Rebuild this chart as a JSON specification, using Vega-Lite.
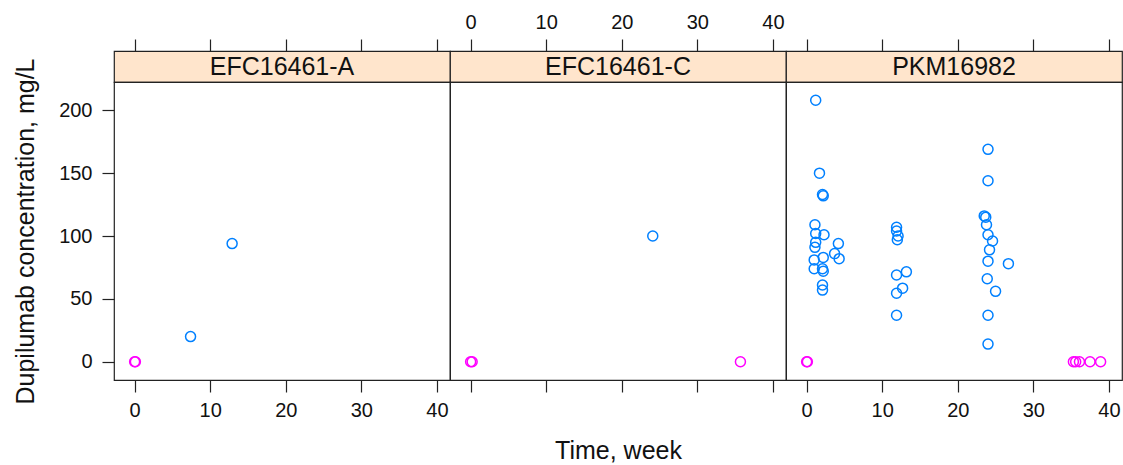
{
  "$schema": "https://vega.github.io/schema/vega-lite/v6.json",
  "background": "white",
  "padding": {"left": 13, "top": 11, "right": 0, "bottom": 0},
  "config": {
    "view": {"stroke": "#222", "strokeWidth": 1.2},
    "axis": {
      "grid": false, "domain": false, "tickColor": "#222", "tickWidth": 1.2, "tickSize": 12,
      "labelFont": "Liberation Sans", "labelFontSize": 20, "labelColor": "#111",
      "labelFlush": false, "labelOverlap": false, "labelBound": false,
      "titleFont": "Liberation Sans", "titleFontSize": 25, "titleFontWeight": "normal", "titleColor": "#111"
    },
    "concat": {"spacing": 0}
  },
  "datasets": {
    "pk": [
      {"study": "EFC16461-A", "week": 0, "conc": 0, "status": "BLQ"},
      {"study": "EFC16461-A", "week": 0.1, "conc": 0, "status": "BLQ"},
      {"study": "EFC16461-A", "week": 7.4, "conc": 20, "status": "observed"},
      {"study": "EFC16461-A", "week": 12.9, "conc": 94, "status": "observed"},
      {"study": "EFC16461-C", "week": 0, "conc": 0, "status": "BLQ"},
      {"study": "EFC16461-C", "week": 0.2, "conc": 0, "status": "BLQ"},
      {"study": "EFC16461-C", "week": 24.1, "conc": 100, "status": "observed"},
      {"study": "EFC16461-C", "week": 35.7, "conc": 0, "status": "BLQ"},
      {"study": "PKM16982", "week": 1.2, "conc": 208, "status": "observed"},
      {"study": "PKM16982", "week": 1.7, "conc": 150, "status": "observed"},
      {"study": "PKM16982", "week": 2.1, "conc": 133, "status": "observed"},
      {"study": "PKM16982", "week": 2.2, "conc": 132, "status": "observed"},
      {"study": "PKM16982", "week": 1.1, "conc": 109, "status": "observed"},
      {"study": "PKM16982", "week": 1.2, "conc": 102, "status": "observed"},
      {"study": "PKM16982", "week": 2.3, "conc": 101, "status": "observed"},
      {"study": "PKM16982", "week": 1.2, "conc": 95, "status": "observed"},
      {"study": "PKM16982", "week": 1.1, "conc": 91, "status": "observed"},
      {"study": "PKM16982", "week": 4.2, "conc": 94, "status": "observed"},
      {"study": "PKM16982", "week": 3.7, "conc": 86, "status": "observed"},
      {"study": "PKM16982", "week": 4.3, "conc": 82, "status": "observed"},
      {"study": "PKM16982", "week": 1.0, "conc": 81, "status": "observed"},
      {"study": "PKM16982", "week": 2.2, "conc": 83, "status": "observed"},
      {"study": "PKM16982", "week": 1.0, "conc": 74, "status": "observed"},
      {"study": "PKM16982", "week": 2.1, "conc": 74, "status": "observed"},
      {"study": "PKM16982", "week": 2.2, "conc": 72, "status": "observed"},
      {"study": "PKM16982", "week": 2.1, "conc": 61, "status": "observed"},
      {"study": "PKM16982", "week": 2.1, "conc": 57, "status": "observed"},
      {"study": "PKM16982", "week": 11.9, "conc": 107, "status": "observed"},
      {"study": "PKM16982", "week": 11.9, "conc": 104, "status": "observed"},
      {"study": "PKM16982", "week": 12.1, "conc": 100, "status": "observed"},
      {"study": "PKM16982", "week": 12.0, "conc": 97, "status": "observed"},
      {"study": "PKM16982", "week": 11.9, "conc": 69, "status": "observed"},
      {"study": "PKM16982", "week": 13.2, "conc": 71.5, "status": "observed"},
      {"study": "PKM16982", "week": 12.7, "conc": 58.5, "status": "observed"},
      {"study": "PKM16982", "week": 11.9, "conc": 54.5, "status": "observed"},
      {"study": "PKM16982", "week": 11.9, "conc": 37, "status": "observed"},
      {"study": "PKM16982", "week": 24.0, "conc": 169, "status": "observed"},
      {"study": "PKM16982", "week": 24.0, "conc": 144, "status": "observed"},
      {"study": "PKM16982", "week": 23.5, "conc": 116, "status": "observed"},
      {"study": "PKM16982", "week": 23.7, "conc": 115, "status": "observed"},
      {"study": "PKM16982", "week": 23.8, "conc": 109, "status": "observed"},
      {"study": "PKM16982", "week": 24.0, "conc": 101, "status": "observed"},
      {"study": "PKM16982", "week": 24.6, "conc": 96, "status": "observed"},
      {"study": "PKM16982", "week": 24.2, "conc": 89, "status": "observed"},
      {"study": "PKM16982", "week": 24.0, "conc": 80, "status": "observed"},
      {"study": "PKM16982", "week": 26.7, "conc": 78, "status": "observed"},
      {"study": "PKM16982", "week": 23.9, "conc": 66, "status": "observed"},
      {"study": "PKM16982", "week": 25.0, "conc": 56, "status": "observed"},
      {"study": "PKM16982", "week": 24.0, "conc": 37, "status": "observed"},
      {"study": "PKM16982", "week": 24.0, "conc": 14, "status": "observed"},
      {"study": "PKM16982", "week": 0, "conc": 0, "status": "BLQ"},
      {"study": "PKM16982", "week": 0.1, "conc": 0, "status": "BLQ"},
      {"study": "PKM16982", "week": 35.3, "conc": 0, "status": "BLQ"},
      {"study": "PKM16982", "week": 35.6, "conc": 0, "status": "BLQ"},
      {"study": "PKM16982", "week": 36.1, "conc": 0, "status": "BLQ"},
      {"study": "PKM16982", "week": 37.5, "conc": 0, "status": "BLQ"},
      {"study": "PKM16982", "week": 38.9, "conc": 0, "status": "BLQ"}
    ]
  },
  "concat": [
    {
      "width": 336, "height": 31,
      "view": {"fill": "#ffe5cc", "stroke": "#222", "strokeWidth": 1.2},
      "layer": [
        {
          "data": {"name": "pk"},
          "transform": [{"filter": "datum.study === 'EFC16461-A'"}],
          "mark": {"type": "point", "opacity": 0},
          "encoding": {"x": {"field": "week", "type": "quantitative", "scale": {"domain": [-2.73, 41.73], "nice": false, "zero": false}, "axis": {"orient": "top", "values": [0, 10, 20, 30, 40], "labels": false, "title": null}}}
        },
        {
          "data": {"values": [{"study": "EFC16461-A"}]},
          "mark": {"type": "text", "font": "Liberation Sans", "fontSize": 25, "color": "#111"},
          "encoding": {"text": {"field": "study"}}
        }
      ]
    },
    {
      "width": 336, "height": 31,
      "view": {"fill": "#ffe5cc", "stroke": "#222", "strokeWidth": 1.2},
      "layer": [
        {
          "data": {"name": "pk"},
          "transform": [{"filter": "datum.study === 'EFC16461-C'"}],
          "mark": {"type": "point", "opacity": 0},
          "encoding": {"x": {"field": "week", "type": "quantitative", "scale": {"domain": [-2.73, 41.73], "nice": false, "zero": false}, "axis": {"orient": "top", "values": [0, 10, 20, 30, 40], "labelPadding": 7, "title": null}}}
        },
        {
          "data": {"values": [{"study": "EFC16461-C"}]},
          "mark": {"type": "text", "font": "Liberation Sans", "fontSize": 25, "color": "#111"},
          "encoding": {"text": {"field": "study"}}
        }
      ]
    },
    {
      "width": 336, "height": 31,
      "view": {"fill": "#ffe5cc", "stroke": "#222", "strokeWidth": 1.2},
      "layer": [
        {
          "data": {"name": "pk"},
          "transform": [{"filter": "datum.study === 'PKM16982'"}],
          "mark": {"type": "point", "opacity": 0},
          "encoding": {"x": {"field": "week", "type": "quantitative", "scale": {"domain": [-2.73, 41.73], "nice": false, "zero": false}, "axis": {"orient": "top", "values": [0, 10, 20, 30, 40], "labels": false, "title": null}}}
        },
        {
          "data": {"values": [{"study": "PKM16982"}]},
          "mark": {"type": "text", "font": "Liberation Sans", "fontSize": 25, "color": "#111"},
          "encoding": {"text": {"field": "study"}}
        }
      ]
    },
    {
      "width": 336, "height": 298,
      "data": {"name": "pk"},
      "transform": [{"filter": "datum.study === 'EFC16461-A'"}],
      "mark": {"type": "point", "shape": "circle", "filled": false, "size": 100, "strokeWidth": 1.5, "opacity": 1},
      "encoding": {
        "x": {"field": "week", "type": "quantitative", "scale": {"domain": [-2.73, 41.73], "nice": false, "zero": false}, "axis": {"orient": "bottom", "values": [0, 10, 20, 30, 40], "labelPadding": 8, "title": null}},
        "y": {"field": "conc", "type": "quantitative", "scale": {"domain": [-14.56, 222.56], "nice": false, "zero": false}, "axis": {"orient": "left", "values": [0, 50, 100, 150, 200], "labelPadding": 10, "titlePadding": 20, "title": "Dupilumab concentration, mg/L"}},
        "color": {"field": "status", "type": "nominal", "scale": {"domain": ["observed", "BLQ"], "range": ["#0080ff", "#ff00ff"]}, "legend": null}
      }
    },
    {
      "width": 336, "height": 298,
      "data": {"name": "pk"},
      "transform": [{"filter": "datum.study === 'EFC16461-C'"}],
      "mark": {"type": "point", "shape": "circle", "filled": false, "size": 100, "strokeWidth": 1.5, "opacity": 1},
      "encoding": {
        "x": {"field": "week", "type": "quantitative", "scale": {"domain": [-2.73, 41.73], "nice": false, "zero": false}, "axis": {"orient": "bottom", "values": [0, 10, 20, 30, 40], "labels": false, "labelPadding": 8, "titlePadding": 46, "title": "Time, week"}},
        "y": {"field": "conc", "type": "quantitative", "scale": {"domain": [-14.56, 222.56], "nice": false, "zero": false}, "axis": null},
        "color": {"field": "status", "type": "nominal", "scale": {"domain": ["observed", "BLQ"], "range": ["#0080ff", "#ff00ff"]}, "legend": null}
      }
    },
    {
      "width": 336, "height": 298,
      "data": {"name": "pk"},
      "transform": [{"filter": "datum.study === 'PKM16982'"}],
      "mark": {"type": "point", "shape": "circle", "filled": false, "size": 100, "strokeWidth": 1.5, "opacity": 1},
      "encoding": {
        "x": {"field": "week", "type": "quantitative", "scale": {"domain": [-2.73, 41.73], "nice": false, "zero": false}, "axis": {"orient": "bottom", "values": [0, 10, 20, 30, 40], "labelPadding": 8, "title": null}},
        "y": {"field": "conc", "type": "quantitative", "scale": {"domain": [-14.56, 222.56], "nice": false, "zero": false}, "axis": null},
        "color": {"field": "status", "type": "nominal", "scale": {"domain": ["observed", "BLQ"], "range": ["#0080ff", "#ff00ff"]}, "legend": null}
      }
    }
  ],
  "columns": 3,
  "spacing": 0,
  "bounds": "flush",
  "align": "each",
  "resolve": {"scale": {"x": "independent", "y": "independent", "color": "shared"}}
}
